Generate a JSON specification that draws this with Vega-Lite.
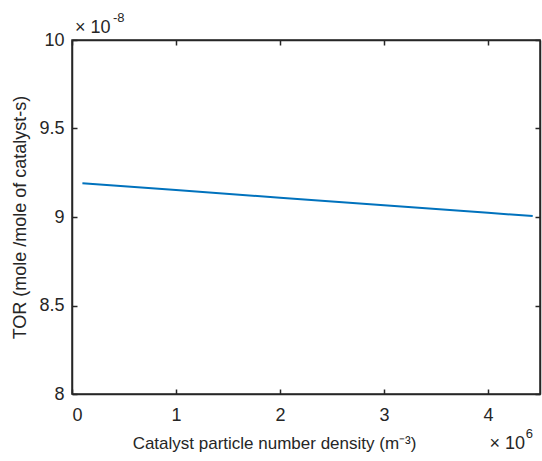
{
  "$schema": "https://vega.github.io/schema/vega-lite/v6.json",
  "width": 468,
  "height": 354,
  "autosize": {"type": "none"},
  "padding": {"left": 72, "top": 40, "right": 2, "bottom": 67},
  "background": "white",
  "config": {
    "font": "Liberation Sans",
    "view": {"stroke": "#262626", "strokeWidth": 1.5},
    "axis": {
      "grid": false,
      "domainColor": "#262626",
      "domainWidth": 1.5,
      "tickColor": "#262626",
      "tickWidth": 1.5,
      "tickSize": -5,
      "labelColor": "#262626",
      "titleColor": "#262626",
      "labelFont": "Liberation Sans",
      "titleFont": "Liberation Sans",
      "labelFontSize": 18,
      "titleFontSize": 17,
      "titleFontWeight": "normal"
    }
  },
  "data": {
    "values": [
      {"density": 100000, "tor": 9.19e-8},
      {"density": 1000000, "tor": 9.152e-8},
      {"density": 2000000, "tor": 9.109e-8},
      {"density": 3000000, "tor": 9.066e-8},
      {"density": 4000000, "tor": 9.024e-8},
      {"density": 4430000, "tor": 9.005e-8}
    ]
  },
  "layer": [
    {
      "mark": {"type": "line", "color": "#0072BD", "strokeWidth": 2},
      "encoding": {
        "x": {
          "field": "density", "type": "quantitative",
          "scale": {"domain": [0, 4500000], "nice": false, "zero": false},
          "axis": {
            "orient": "bottom",
            "values": [0, 1000000, 2000000, 3000000, 4000000],
            "labelExpr": "format(datum.value/1000000, '~f')",
            "labelPadding": 17,
            "title": "Catalyst particle number density (m⁻³)",
            "titleBaseline": "alphabetic",
            "titleX": 202,
            "titleY": 54
          }
        },
        "y": {
          "field": "tor", "type": "quantitative",
          "scale": {"domain": [8e-8, 1e-7], "nice": false, "zero": false},
          "axis": {
            "orient": "left",
            "values": [8e-8, 8.5e-8, 9e-8, 9.5e-8, 1e-7],
            "labelExpr": "format(datum.value*1e8, '.1~f')",
            "labelPadding": 13,
            "title": "TOR (mole /mole of catalyst-s)",
            "titleFontSize": 18,
            "titleBaseline": "middle",
            "titleX": -52
          }
        }
      }
    },
    {
      "mark": {"type": "line", "opacity": 0},
      "encoding": {
        "x": {
          "field": "density", "type": "quantitative",
          "axis": {"orient": "top", "values": [0, 1000000, 2000000, 3000000, 4000000], "labels": false, "title": null}
        },
        "y": {
          "field": "tor", "type": "quantitative",
          "axis": {"orient": "right", "values": [8e-8, 8.5e-8, 9e-8, 9.5e-8, 1e-7], "labels": false, "title": null}
        }
      }
    },
    {
      "data": {"values": [{"label": "× 10"}]},
      "mark": {"type": "text", "align": "left", "baseline": "alphabetic", "fontSize": 18, "color": "#262626", "dx": 3, "dy": -7, "font": "Liberation Sans"},
      "encoding": {
        "x": {"datum": 0, "type": "quantitative", "axis": null},
        "y": {"datum": 1e-7, "type": "quantitative", "axis": null},
        "text": {"field": "label"}
      }
    },
    {
      "data": {"values": [{"label": "-8"}]},
      "mark": {"type": "text", "align": "left", "baseline": "alphabetic", "fontSize": 13, "color": "#262626", "dx": 41, "dy": -18, "font": "Liberation Sans"},
      "encoding": {
        "x": {"datum": 0, "type": "quantitative", "axis": null},
        "y": {"datum": 1e-7, "type": "quantitative", "axis": null},
        "text": {"field": "label"}
      }
    },
    {
      "data": {"values": [{"label": "× 10"}]},
      "mark": {"type": "text", "align": "right", "baseline": "alphabetic", "fontSize": 18, "color": "#262626", "dx": -15, "dy": 55, "font": "Liberation Sans"},
      "encoding": {
        "x": {"datum": 4500000, "type": "quantitative", "axis": null},
        "y": {"datum": 8e-8, "type": "quantitative", "axis": null},
        "text": {"field": "label"}
      }
    },
    {
      "data": {"values": [{"label": "6"}]},
      "mark": {"type": "text", "align": "right", "baseline": "alphabetic", "fontSize": 13, "color": "#262626", "dx": -7, "dy": 44, "font": "Liberation Sans"},
      "encoding": {
        "x": {"datum": 4500000, "type": "quantitative", "axis": null},
        "y": {"datum": 8e-8, "type": "quantitative", "axis": null},
        "text": {"field": "label"}
      }
    }
  ],
  "resolve": {"axis": {"x": "independent", "y": "independent"}}
}
